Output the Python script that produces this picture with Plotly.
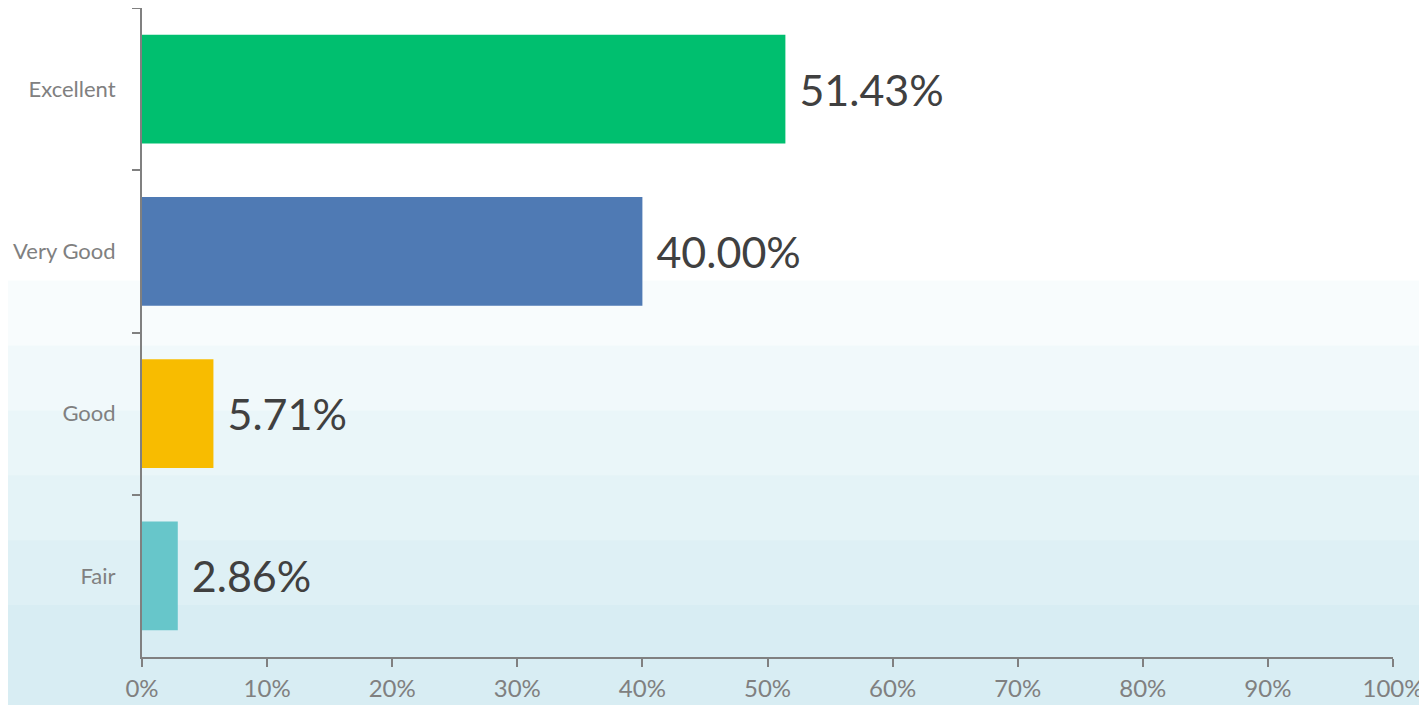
import plotly.graph_objects as go

# ratings survey result
ratings = ["Excellent", "Very Good", "Good", "Fair"]
shares = [51.43, 40.00, 5.71, 2.86]
bar_colors = ["#00BF6F", "#4F7AB4", "#F8BC00", "#67C6CA"]
x_ticks = [0, 10, 20, 30, 40, 50, 60, 70, 80, 90, 100]

fig = go.Figure()

fig.add_trace(go.Bar(
    x=shares,
    y=ratings,
    orientation="h",
    marker=dict(color=bar_colors, line=dict(width=0)),
    text=[f" {v:.2f}%" for v in shares],
    textposition="outside",
    textfont=dict(size=43, color="#404040", family="Lato"),
    cliponaxis=False,
    hoverinfo="skip",
))

# soft watery backdrop (stacked translucent bands, stronger at the bottom)
for top in [0.08, 0.18, 0.28, 0.38, 0.48, 0.58]:
    fig.add_shape(
        type="rect", xref="paper", yref="paper",
        x0=-0.2, x1=1.1, y0=-0.2, y1=top,
        fillcolor="#8CCBE0", opacity=0.06,
        line=dict(width=0), layer="below",
    )

fig.update_layout(
    width=1419, height=697,
    margin=dict(l=134, r=34, t=0, b=48),
    paper_bgcolor="white",
    plot_bgcolor="rgba(0,0,0,0)",
    bargap=0.33,
    showlegend=False,
    font=dict(family="Lato", color="#808080", size=22),
)

fig.update_xaxes(
    range=[0, 100],
    tickvals=x_ticks,
    ticktext=[f"{t}%" for t in x_ticks],
    showgrid=False,
    zeroline=False,
    automargin=False,
    showline=True, linecolor="#808080", linewidth=2,
    ticks="outside", ticklen=8, tickwidth=2, tickcolor="#808080",
    ticklabelstandoff=1,
    tickfont=dict(size=24, color="#808080"),
)

fig.update_yaxes(
    autorange="reversed",
    showgrid=False,
    automargin=False,
    showline=True, linecolor="#808080", linewidth=2,
    ticks="outside", ticklen=8, tickwidth=2, tickcolor="#808080",
    tickson="boundaries",
    ticklabelstandoff=20,
    tickfont=dict(size=22, color="#808080"),
)

fig.write_html("out.html")
